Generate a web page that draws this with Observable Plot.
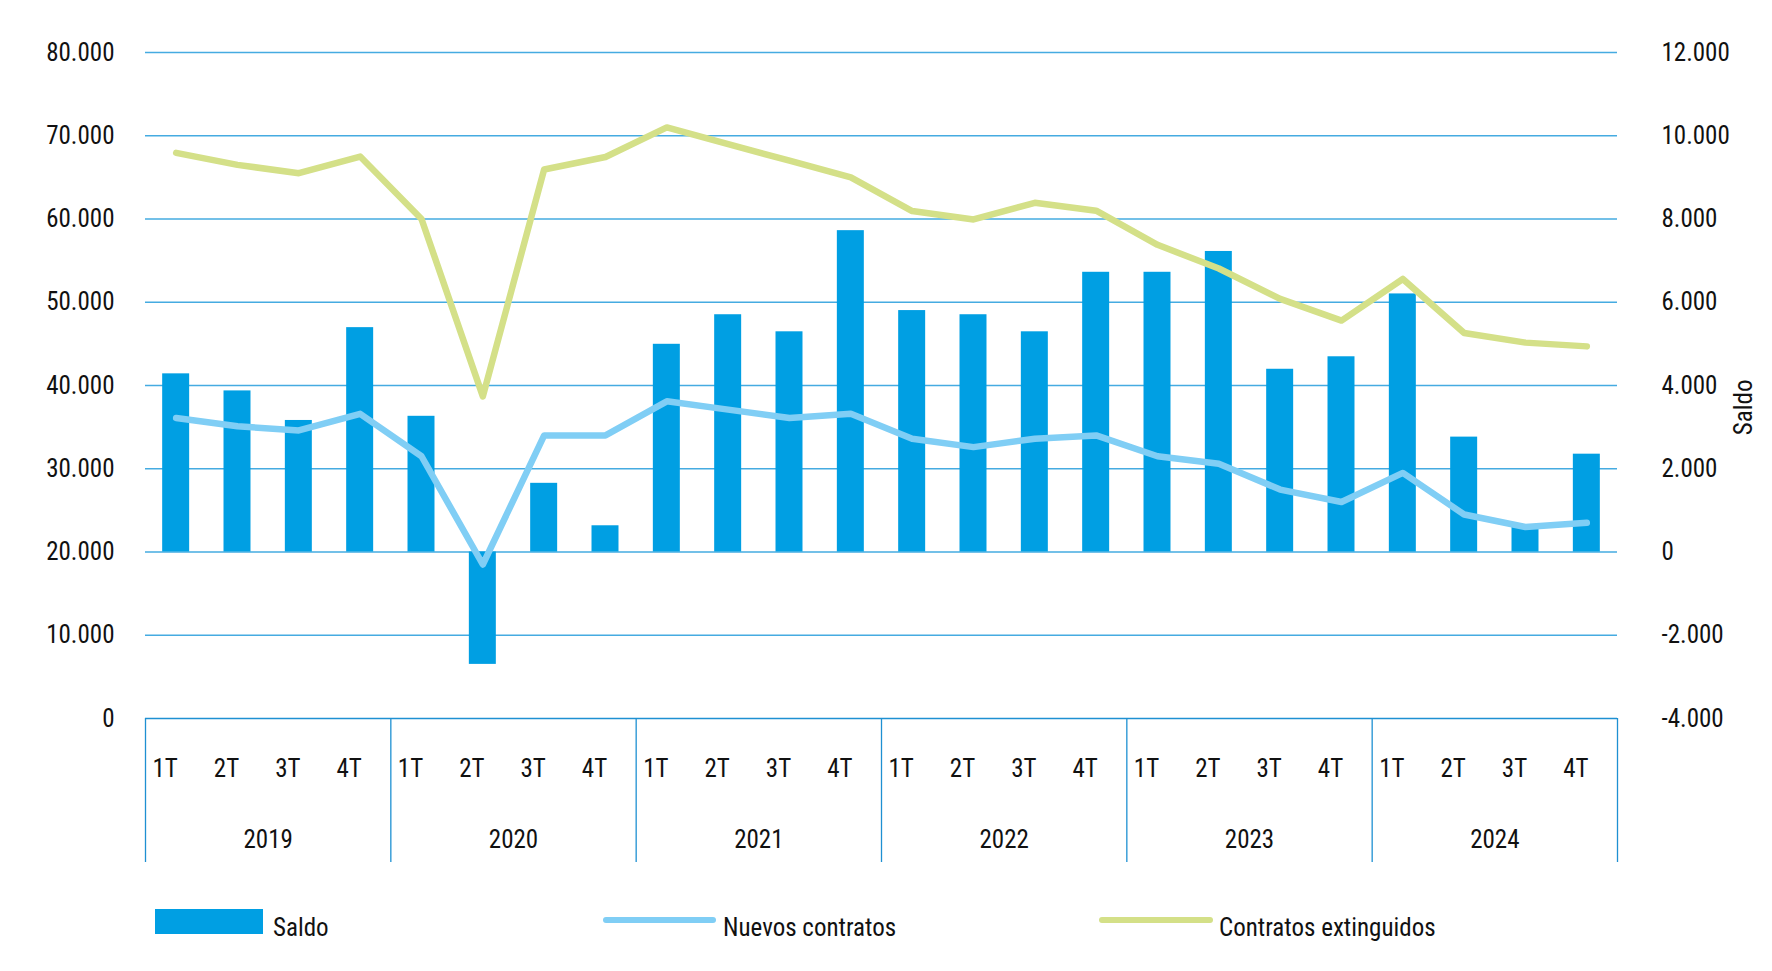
<!DOCTYPE html>
<html>
<head>
<meta charset="utf-8">
<script src="https://cdn.jsdelivr.net/npm/d3@7"></script>
<script src="https://cdn.jsdelivr.net/npm/@observablehq/plot@0.6"></script>
<style>
  body { margin: 0; background: #fff; font-family: "Roboto Condensed", "Liberation Sans Narrow", Roboto, sans-serif; }
  #chart svg { display: block; }
  #legend { position: relative; width: 1772px; height: 91px; font-size: 25px; color: #111; }
  #legend > * { position: absolute; }
  #legend span { line-height: 1; white-space: nowrap; }
</style>
</head>
<body>
<div id="chart"></div>
<div id="legend"></div>
<script>
// ---- data ----
const years = ["2019", "2020", "2021", "2022", "2023", "2024"];
const quarters = ["1T", "2T", "3T", "4T"];
// Saldo (right axis)
const saldo = [4280, 3870, 3160, 5390, 3260, -2700, 1650, 630, 4990, 5700, 5290, 7720,
               5800, 5700, 5290, 6720, 6720, 7220, 4390, 4690, 6200, 2760, 600, 2350];
// Nuevos contratos (left axis)
const nuevos = [36100, 35100, 34600, 36600, 31500, 18500, 34000, 34000, 38100, 37100, 36100, 36600,
                33600, 32600, 33600, 34000, 31500, 30600, 27500, 26000, 29500, 24500, 23000, 23500];
// Contratos extinguidos (left axis)
const extinguidos = [67950, 66500, 65500, 67500, 60000, 38700, 65950, 67450, 71000, 69000, 67000, 65000,
                     60950, 59950, 61950, 61000, 56900, 54050, 50400, 47800, 52800, 46300, 45150, 44700];
const leftTicks = [0, 10000, 20000, 30000, 40000, 50000, 60000, 70000, 80000];
const seriesNames = ["Saldo", "Nuevos contratos", "Contratos extinguidos"];
const seriesColors = ["#009FE3", "#80CEF5", "#D4E088"];
const rightAxisTitle = "Saldo";

// ---- helpers ----
const loc = d3.formatLocale({decimal: ",", thousands: ".", grouping: [3], currency: ["", "€"], minus: "-"});
const fmt = loc.format(",d");
// right axis [-4000, 12000] <-> left axis [0, 80000]
const toLeft = v => (v + 4000) * 5;
const toRight = v => v / 5 - 4000;

const rows = [];
years.forEach((y, yi) => quarters.forEach((q, qi) => {
  const i = yi * 4 + qi;
  rows.push({i, year: y, q, saldo: saldo[i], nuevos: nuevos[i], extinguidos: extinguidos[i]});
}));
const n = rows.length;
const halfBar = 0.22;

const gridColor = "#45ABE1";
const axisColor = "#1E90D2";
const fontFamily = "'Roboto Condensed', 'Liberation Sans Narrow', Roboto, sans-serif";

const chart = Plot.plot({
  width: 1772,
  height: 880,
  marginLeft: 145,
  marginRight: 155,
  marginTop: 52,
  marginBottom: 162,
  style: {fontFamily, fontSize: "25px", color: "#111", background: "#fff"},
  x: {domain: [0, n]},
  y: {domain: [0, 80000]},
  marks: [
    Plot.ruleY(leftTicks.filter(d => d > 0), {stroke: gridColor, strokeWidth: 1.4}),
    Plot.rectY(rows, {
      x1: d => d.i + 0.5 - halfBar,
      x2: d => d.i + 0.5 + halfBar,
      y1: () => toLeft(0),
      y2: d => toLeft(d.saldo),
      fill: seriesColors[0]
    }),
    Plot.ruleY([0], {stroke: axisColor, strokeWidth: 1.6}),
    Plot.line(rows, {x: d => d.i + 0.5, y: "nuevos", stroke: seriesColors[1], strokeWidth: 6.5,
      strokeLinejoin: "round", strokeLinecap: "round"}),
    Plot.line(rows, {x: d => d.i + 0.5, y: "extinguidos", stroke: seriesColors[2], strokeWidth: 6.5,
      strokeLinejoin: "round", strokeLinecap: "round"}),
    // left axis
    Plot.axisY({anchor: "left", ticks: leftTicks, tickFormat: fmt, tickSize: 0, tickPadding: 31, label: null}),
    // right axis (Saldo)
    Plot.axisY({anchor: "right", ticks: leftTicks, tickFormat: d => fmt(toRight(d)), tickSize: 0,
      tickPadding: 44, textAnchor: "start", label: null}),
    Plot.text([rightAxisTitle], {frameAnchor: "right", rotate: -90, dx: 126, dy: -6, fill: "#111"}),
    // year separators
    Plot.axisX({ticks: d3.range(0, n + 1, 4), tickSize: 144, tickFormat: () => "", stroke: axisColor,
      strokeWidth: 1.3, label: null}),
    // quarter labels
    Plot.axisX({ticks: rows.map(d => d.i + 0.5), tickFormat: t => quarters[Math.floor(t) % 4],
      tickSize: 0, tickPadding: 41, dx: -11, label: null}),
    // year labels
    Plot.axisX({ticks: years.map((y, k) => k * 4 + 2), tickFormat: t => years[Math.round((t - 2) / 4)],
      tickSize: 0, tickPadding: 112, label: null})
  ]
});
document.getElementById("chart").appendChild(chart);

// ---- legend (HTML, below the SVG) ----
const legend = document.getElementById("legend");
const legendLayout = [
  {swLeft: 155, swWidth: 108, textLeft: 273, kind: "rect"},
  {swLeft: 603, swWidth: 113, textLeft: 723, kind: "line"},
  {swLeft: 1099, swWidth: 114, textLeft: 1219, kind: "line"}
];
seriesNames.forEach((name, k) => {
  const L = legendLayout[k];
  const sw = document.createElement("div");
  sw.style.left = L.swLeft + "px";
  sw.style.width = L.swWidth + "px";
  sw.style.background = seriesColors[k];
  if (L.kind === "rect") { sw.style.top = "29px"; sw.style.height = "25px"; }
  else { sw.style.top = "37px"; sw.style.height = "6px"; sw.style.borderRadius = "3px"; }
  legend.appendChild(sw);
  const t = document.createElement("span");
  t.textContent = name;
  t.style.left = L.textLeft + "px";
  t.style.top = "35px";
  legend.appendChild(t);
});
</script>
</body>
</html>
